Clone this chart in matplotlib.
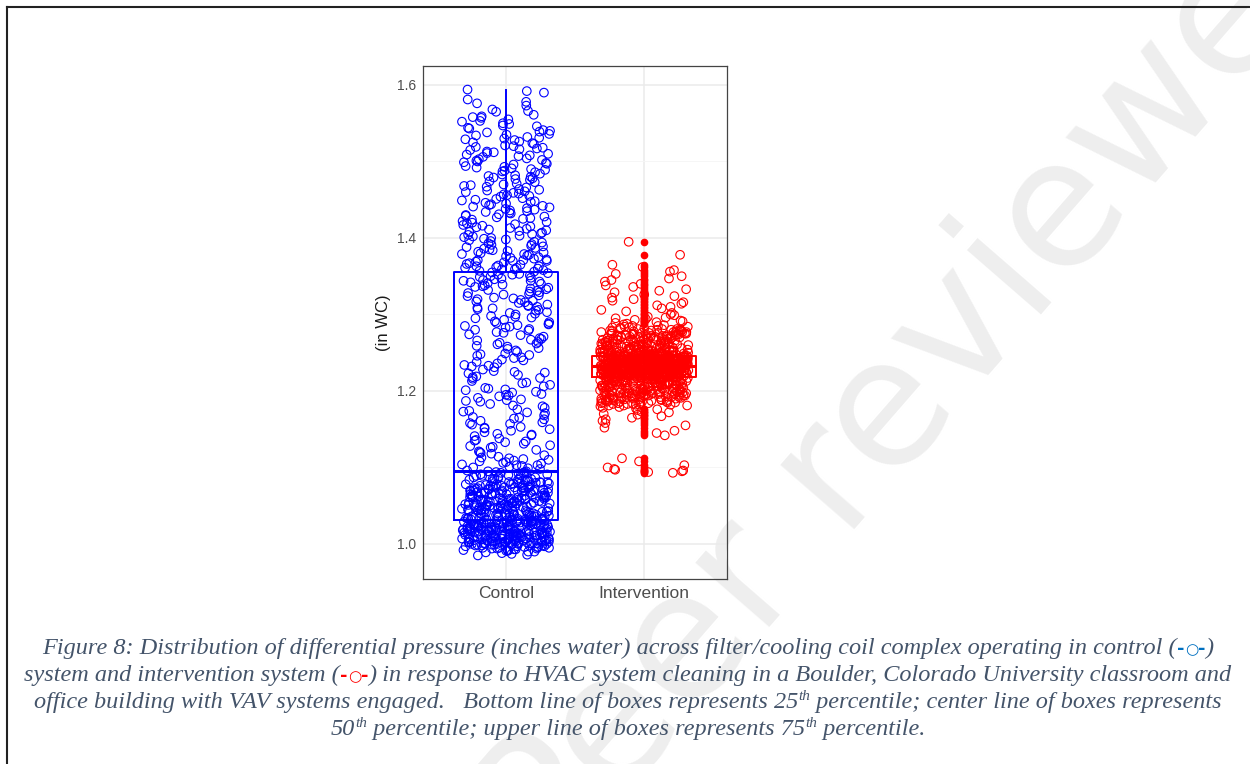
import numpy as np
import matplotlib
matplotlib.use('Agg')
import matplotlib.pyplot as plt
from matplotlib.lines import Line2D

plt.rcParams['font.family'] = ['Liberation Sans', 'DejaVu Sans']

# ---- data (inches WC), values in thousandths ----
# dense lower part of the control group: one bin per 0.001 in WC, with counts
ctrl_bins = np.arange(985, 1097)
ctrl_counts = [1, 1, 1, 1, 1, 2, 2, 2, 2, 3, 3, 3, 3, 4, 4,
               5, 5, 6, 6, 5, 6, 5, 6, 5, 6, 5, 5, 6, 5, 6, 5,
               5, 5, 6, 5, 5, 6, 5, 5, 6, 5, 5, 5, 5, 5, 5, 4,
               4, 4, 3, 4, 4, 3, 4, 4, 4, 3, 4, 3, 4, 4, 3, 4, 4, 3, 4, 3,
               4, 4, 3, 4, 3, 4, 3, 4, 3, 4, 3, 3, 4, 3, 3, 4, 3, 3, 4, 3,
               3, 3, 4, 3, 3, 3, 3, 3, 3,
               3, 2, 2, 2, 3, 2, 2, 2, 2, 2, 2, 2, 2, 2, 2, 1]
# sparser upper part of the control group
ctrl_upper = [1356, 1354, 1352, 1350, 1348, 1346, 1344, 1342, 1340, 1338,
              1336, 1333, 1331, 1329, 1326, 1324, 1322, 1319, 1317, 1315,
              1312, 1310, 1308, 1305, 1303, 1300, 1298, 1296, 1293, 1291,
              1288, 1286, 1284, 1281, 1279, 1276, 1274, 1271, 1268, 1266,
              1263, 1261, 1258, 1256, 1253, 1251, 1248, 1246, 1243, 1241,
              1238, 1236, 1233, 1231, 1228, 1226, 1223, 1221, 1218, 1216,
              1213, 1211, 1208, 1206, 1203, 1201, 1198, 1196, 1193, 1191,
              1188, 1186, 1183, 1181, 1178, 1176, 1173, 1171, 1168, 1166,
              1163, 1161, 1158, 1156, 1153, 1151, 1148, 1146, 1143, 1141,
              1138, 1136, 1133, 1131, 1128, 1126, 1123, 1121, 1118, 1116,
              1113, 1111, 1109, 1107, 1105, 1103, 1101, 1099,
              1355, 1351, 1347, 1343, 1339, 1334, 1327, 1320, 1313, 1306,
              1297, 1289, 1277, 1264, 1249, 1234, 1219, 1204, 1189, 1174,
              1159, 1144, 1129, 1114, 1104, 1100, 1098, 1353, 1345, 1337,
              1328, 1318, 1302, 1283, 1259, 1224, 1194, 1164, 1134, 1119,
              1108, 1102,
              1352, 1349, 1341, 1335, 1330, 1325, 1321, 1316, 1311, 1307,
              1301, 1295, 1290, 1285, 1280, 1273, 1267, 1262, 1255, 1247,
              1240, 1232, 1225, 1217, 1210, 1202, 1195, 1187, 1180, 1172,
              1165, 1157, 1150, 1142, 1135, 1127, 1120, 1112, 1106, 1103,
              1357, 1344, 1332, 1309, 1287, 1269, 1244, 1199, 1152, 1110,
              1594, 1590, 1581, 1576, 1573, 1568, 1565, 1561, 1557, 1555,
              1553, 1552, 1549, 1546, 1543, 1540, 1538, 1535, 1534, 1531,
              1529, 1526, 1524, 1521, 1519, 1517, 1515, 1512, 1510, 1509,
              1506, 1503, 1502, 1499, 1497, 1494, 1492, 1491, 1488, 1486,
              1483, 1481, 1480, 1477, 1474, 1473, 1470, 1468, 1466, 1463,
              1461, 1459, 1456, 1455, 1452, 1450, 1448, 1445, 1443, 1441,
              1439, 1437, 1434, 1432, 1431, 1428, 1426, 1424, 1421, 1420,
              1418, 1415, 1413, 1411, 1409, 1407, 1405, 1403, 1401, 1399,
              1397, 1395, 1394, 1392, 1390, 1388, 1386, 1385, 1383, 1381,
              1380, 1378, 1377, 1375, 1373, 1372, 1370, 1368, 1367, 1365,
              1364, 1362, 1361, 1359, 1358,
              1547, 1539, 1528, 1518, 1511, 1504, 1496, 1487, 1478, 1469,
              1462, 1454, 1447, 1440, 1433, 1427, 1419, 1412, 1404, 1398,
              1389, 1382, 1374, 1366, 1360, 1544, 1523, 1507, 1489, 1471,
              1458, 1442, 1429, 1416, 1406, 1393, 1384, 1376, 1369, 1363,
              1536, 1500, 1464, 1436, 1410,
              1592, 1578, 1566, 1559, 1550, 1541, 1532, 1525, 1516, 1508,
              1501, 1493, 1484, 1476, 1467, 1460, 1451, 1444, 1435, 1425,
              1417, 1408, 1400, 1391, 1379, 1371, 1361, 1558, 1530, 1513,
              1490, 1479, 1457, 1446, 1438, 1422, 1414, 1402, 1396, 1387,
              1379, 1370, 1363, 1359, 1520, 1498, 1482, 1449, 1430, 1371]

# intervention group: dense core as bins with counts, tails as single values
int_bins = np.arange(1181, 1286)
int_counts = [3, 3, 3, 4, 3, 4, 4, 3, 4, 4, 4, 6, 4, 6, 4, 6, 6, 6, 6,
              4, 4, 4, 6, 6, 4, 6, 6, 6, 6, 6, 6, 7, 6, 7, 7, 7, 7, 9, 10,
              15, 16, 18, 18, 18, 18, 18, 18, 18, 18, 18, 16, 16,
              16, 16, 16, 16, 16, 16, 16, 16, 16, 16, 15, 15, 15, 15,
              7, 7, 7, 7, 7, 7, 7,
              4, 4, 6, 4, 4, 4, 6, 4, 4, 4, 6, 4,
              4, 6, 4, 4, 4, 6, 4, 4, 4, 6, 4, 4, 4, 4,
              3, 3, 2, 3, 2, 2]
int_high = [1395, 1378, 1365, 1362, 1358, 1356, 1353, 1350, 1347, 1345,
            1343, 1340, 1338, 1336, 1333, 1331, 1329, 1326, 1324, 1322,
            1320, 1318, 1316, 1314, 1312, 1310, 1308, 1306, 1304, 1302,
            1300, 1299, 1297, 1296, 1295, 1294, 1293, 1292, 1291, 1290,
            1289, 1288, 1287, 1286]
int_low = [1180, 1179, 1178, 1177, 1176, 1175, 1173, 1172, 1170, 1169,
           1167, 1165, 1163, 1161, 1158, 1155, 1152, 1148, 1145, 1142,
           1112, 1108, 1103, 1100, 1098, 1097, 1096, 1095, 1094, 1093]

groups = ['Control', 'Intervention']
colors = ['blue', 'red']

control = np.concatenate([np.repeat(ctrl_bins, ctrl_counts), ctrl_upper]) / 1000
intervention = np.concatenate([np.repeat(int_bins, int_counts), int_high, int_low]) / 1000

W, H = 1250, 764
fig = plt.figure(figsize=(W / 100, H / 100), dpi=100)
ax = fig.add_axes([423 / W, 1 - 579 / H, (727 - 423) / W, (579 - 66) / H])
ax.set_facecolor('none')

# watermark behind everything
fig.text(925 / W, 1 - 372 / H, 'Peer reviewed', fontsize=128, color='#eeeeee',
         rotation=49, ha='center', va='center', rotation_mode='anchor',
         family='DejaVu Sans', zorder=-5)

bp = ax.boxplot([control, intervention], positions=[1, 2], widths=0.75, whis=1.5,
                showcaps=False, manage_ticks=False, zorder=2)
for i, c in enumerate(colors):
    bp['boxes'][i].set(color=c, linewidth=1.4)
    bp['medians'][i].set(color=c, linewidth=2.2)
    bp['whiskers'][2 * i].set(color=c, linewidth=1.4)
    bp['whiskers'][2 * i + 1].set(color=c, linewidth=1.4)
    bp['fliers'][i].set(marker='o', markerfacecolor=c, markeredgecolor=c,
                        markersize=4.5, linestyle='none')


# deterministic horizontal jitter (sine hash of the point index)
def jitter(n, seed, width=0.32):
    k = np.arange(n) + seed
    u = (np.sin(k * 12.9898 + 78.233) * 43758.5453) % 1.0
    return (u - 0.5) * 2 * width


for i, (vals, c) in enumerate(zip([control, intervention], colors)):
    ax.scatter(i + 1 + jitter(len(vals), seed=1000 * i), vals, s=38, facecolors='none',
               edgecolors=c, linewidths=0.8, zorder=3)

ax.set_xlim(0.4, 2.6)
ax.set_ylim(0.9542, 1.6248)
ax.set_xticks([1, 2])
ax.set_xticklabels(groups)
ax.set_yticks([1.0, 1.2, 1.4, 1.6])
ax.set_yticklabels(['1.0', '1.2', '1.4', '1.6'])
ax.set_yticks([1.1, 1.3, 1.5], minor=True)
ax.grid(which='major', color='#ebebeb', linewidth=1.1)
ax.grid(which='minor', axis='y', color='#f5f5f5', linewidth=0.6)
ax.set_axisbelow(True)
ax.tick_params(which='both', length=0)
ax.tick_params(axis='y', labelsize=10, labelcolor='#4d4d4d', pad=5)
ax.tick_params(axis='x', labelsize=12.5, labelcolor='#4d4d4d', pad=5)
for s in ax.spines.values():
    s.set_color('#444444')
    s.set_linewidth(0.9)
ax.set_ylabel('(in WC)', fontsize=12, color='#1a1a1a', labelpad=4)

# page frame (left and top edges)
fig.add_artist(Line2D([7 / W, 7 / W], [0, 1 - 7 / H], color='#222222', lw=1.5))
fig.add_artist(Line2D([7 / W, 1], [1 - 7 / H, 1 - 7 / H], color='#222222', lw=1.5))

# caption with coloured symbols and superscripts
slate = '#44546a'
cap = dict(fontsize=17.5, style='italic', family=['Liberation Serif', 'DejaVu Sans'], color=slate)
renderer = fig.canvas.get_renderer()


def seg(text, **kw):
    d = dict(cap)
    d.update(kw)
    return text, d


def sym(c):
    return [seg('-', color=c, weight='bold', style='normal', family='DejaVu Sans', fontsize=13),
            seg('\u25cb', color=c, style='normal', family='DejaVu Sans', fontsize=11),
            seg('-', color=c, weight='bold', style='normal', family='DejaVu Sans', fontsize=13)]


def sup(text):
    return seg(text, fontsize=11, dy=8)


def caption_line(parts, y_px, cx=628):
    widths = []
    for text, kw in parts:
        kw = {k: v for k, v in kw.items() if k != 'dy'}
        a = fig.text(0, 0, '|' + text + '|', **kw)
        b = fig.text(0, 0, '||', **kw)
        widths.append(a.get_window_extent(renderer).width - b.get_window_extent(renderer).width)
        a.remove()
        b.remove()
    x = cx - sum(widths) / 2
    for (text, kw), w in zip(parts, widths):
        kw = dict(kw)
        dy = kw.pop('dy', 0)
        fig.text(x / W, 1 - (y_px - dy) / H, text, va='baseline', ha='left', **kw)
        x += w


caption_line([seg('Figure 8: Distribution of differential pressure (inches water) across '
                  'filter/cooling coil complex operating in control (')] + sym('#0070c0') + [seg(')')], 654)
caption_line([seg('system and intervention system (')] + sym('red') +
             [seg(') in response to HVAC system cleaning in a Boulder, Colorado University classroom and')], 681)
caption_line([seg('office building with VAV systems engaged.   Bottom line of boxes represents 25'),
              sup('th'), seg(' percentile; center line of boxes represents')], 708)
caption_line([seg('50'), sup('th'), seg(' percentile; upper line of boxes represents 75'),
              sup('th'), seg(' percentile.')], 735)

fig.savefig('out.png', dpi=100)
